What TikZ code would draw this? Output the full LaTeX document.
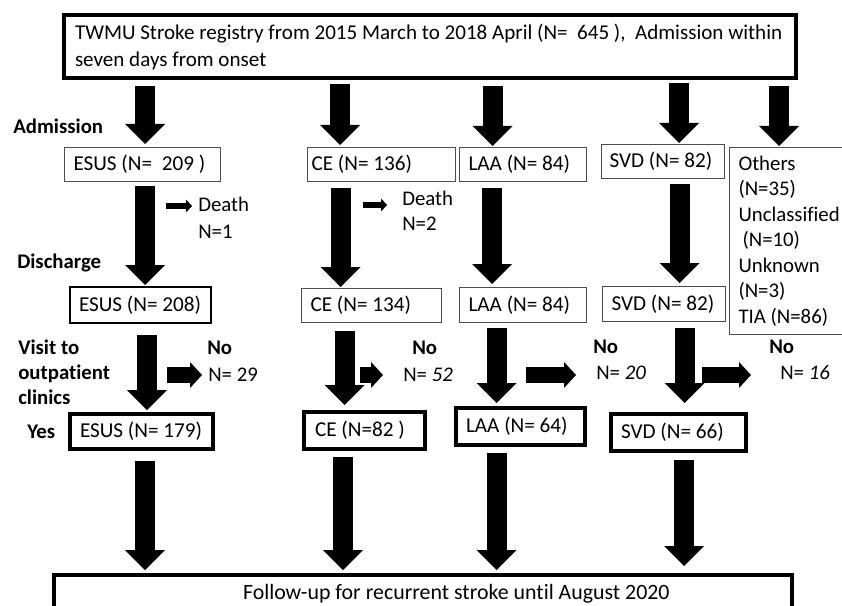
\documentclass[tikz,border=0pt]{standalone}
\usepackage{fontspec}
\setmainfont{Carlito}[Ligatures=NoCommon]
\usetikzlibrary{arrows.meta}
\newdimen\pxu
\pxu=0.75pt
% #1 name #2 style #3 x0 #4 y0 #5 x1 #6 y1 #7 left pad #8 extra options #9 text
\newcommand\flowbox[9]{%
  \pgfmathsetmacro\fbw{(#5-#3-2*#7)*0.75}%
  \pgfmathsetmacro\fbh{(#6-#4)*0.75}%
  \pgfmathsetmacro\fbp{#7*0.75}%
  \node[#2, anchor=north west, text width=\fbw pt, minimum height=\fbh pt,
        inner xsep=\fbp pt, inner ysep=0pt, align=left, #8] (#1) at (#3,#4)
        {\spaceskip=0pt\xspaceskip=0pt\relax #9};}
% #1 x coordinate, #2 from anchor, #3 to anchor, #4 start gap px, #5 end gap px
\newcommand\blockarrow[5]{%
  \pgfmathsetmacro\bas{#4*0.75}%
  \pgfmathsetmacro\bae{#5*0.75}%
  \draw[bigarrow, shorten <=\bas pt, shorten >=\bae pt] (#2 -| #1) -- (#3 -| #1);}
\begin{document}
\begin{tikzpicture}[x=0.75pt, y=-0.75pt,
  every node/.style={font=\fontsize{15.6pt}{19pt}\selectfont, inner sep=0pt},
  thinbox/.style={draw=black!70, line width=0.75pt},
  midbox/.style={draw=black, line width=1.5pt},
  thickbox/.style={draw=black, line width=3pt},
  boxfont/.style={font=\fontsize{15.9pt}{19pt}\selectfont},
  lbl/.style={font=\fontsize{15.6pt}{18.75pt}\selectfont\bfseries},
  bigarrow/.style={draw=black, line width=15pt, -{Triangle[width=30pt,length=15pt,line width=0pt]}},
  midarrow/.style={draw=black, line width=12pt, -{Triangle[width=19.5pt,length=9pt,line width=0pt]}},
  smallarrow/.style={draw=black, line width=4.5pt, -{Triangle[width=9.75pt,length=4.5pt,line width=0pt]}}]
\fill[white] (0,0) rectangle (842,606);
\useasboundingbox (0,0) rectangle (842,606);

% top box
\flowbox{top}{thickbox}{62}{13}{794}{76}{11}{font=\fontsize{15.8pt}{20.25pt}\selectfont}{\mbox{TWMU Stroke registry from 2015 March to 2018 April (N=\ \ 645 ),\ \ Admission within}\\seven days from onset}

% row 1 (admission)
\flowbox{esusA}{thinbox}{64}{147}{220}{181}{9}{boxfont}{\mbox{ESUS (N=\ \ 209 )}}
\flowbox{ceA}{thinbox}{307}{147}{455}{181}{4}{boxfont}{\mbox{CE (N= 136)}}
\flowbox{laaA}{thinbox}{459}{147}{586}{181}{9}{boxfont}{\mbox{LAA (N= 84)}}
\flowbox{svdA}{thinbox}{601}{144}{724}{178}{8}{boxfont}{\mbox{SVD (N= 82)}}
\flowbox{others}{thinbox}{729}{147}{860}{334}{9}{font=\fontsize{15.6pt}{19.1pt}\selectfont}{Others\\(N=35)\\Unclassified\\\hspace*{4\pxu}(N=10)\\Unknown\\(N=3)\\TIA (N=86)}

% row 2 (discharge)
\flowbox{esusB}{midbox}{69}{286}{210}{322}{9}{boxfont}{\mbox{ESUS (N= 208)}}
\flowbox{ceB}{thinbox}{301}{288}{441}{322}{9}{boxfont}{\mbox{CE (N= 134)}}
\flowbox{laaB}{thinbox}{459}{287}{586}{322}{9}{boxfont}{\mbox{LAA (N= 84)}}
\flowbox{svdB}{thinbox}{602}{286}{725}{321}{9}{boxfont}{\mbox{SVD (N= 82)}}

% row 3 (outpatient)
\flowbox{esusC}{thickbox}{68}{412}{211}{447}{10}{boxfont}{\mbox{ESUS (N= 179)}}
\flowbox{ceC}{thickbox}{302}{410}{423}{447}{11}{boxfont}{\mbox{CE (N=82 )}}
\flowbox{laaC}{thickbox}{454}{406}{583}{443}{10}{boxfont}{\mbox{LAA (N= 64)}}
\flowbox{svdC}{thickbox}{609}{412}{744}{449}{10}{boxfont}{\mbox{SVD (N= 66)}}

% bottom box
\flowbox{follow}{thickbox}{52}{573}{790}{611}{0}{font=\fontsize{16.4pt}{19pt}\selectfont}{\hspace*{189\pxu}\mbox{Follow-up for recurrent stroke until August 2020}}

% left labels
\node[lbl, anchor=west] (admission) at (13,126) {Admission};
\node[lbl, anchor=west] (discharge) at (17,263) {Discharge};
\node[lbl, anchor=north west, align=left] (visit) at (18,340) {\spaceskip=0pt\relax Visit to\\outpatient\\clinics};
\node[lbl, anchor=west] (yes) at (27,432) {Yes};

% death labels
\node[anchor=north west, align=left, font=\fontsize{15.6pt}{20.25pt}\selectfont] (death1) at (198,197) {Death\\N=1};
\node[anchor=north west, align=left, font=\fontsize{15.6pt}{18.75pt}\selectfont] (death2) at (402,191) {Death\\N=2};
\coordinate (d1s) at (166,206);
\coordinate (d2s) at (363,205);
\draw[smallarrow, shorten >=4.5pt] (d1s) -- (d1s -| death1.west);
\draw[smallarrow, shorten >=11.25pt] (d2s) -- (d2s -| death2.west);

% no labels
\node[lbl, anchor=west] (no1) at (207,348) {No};
\node[anchor=west] (n1) at (208,375) {N= 29};
\node[lbl, anchor=west] (no2) at (412,348) {No};
\node[anchor=west] (n2) at (403,375) {N= \textit{52}};
\node[lbl, anchor=west] (no3) at (593,347) {No};
\node[anchor=west] (n3) at (596,373) {N= \textit{20}};
\node[lbl, anchor=west] (no4) at (769,347) {No};
\node[anchor=west] (n4) at (780,373) {N= \textit{16}};
\coordinate (s1) at (167,375);
\coordinate (s2) at (360,375);
\coordinate (s3) at (526,375);
\coordinate (s4) at (702,375);
\draw[midarrow, shorten >=4.5pt] (s1) -- (s1 -| n1.west);
\draw[midarrow, shorten >=15pt] (s2) -- (s2 -| n2.west);
\draw[midarrow, shorten >=15pt] (s3) -- (s3 -| n3.west);
\draw[midarrow, shorten >=21.75pt] (s4) -- (s4 -| n4.west);

% arrow columns
\coordinate (a01) at (145,0);
\coordinate (a02) at (340,0);
\coordinate (a03) at (492.5,0);
\coordinate (a04) at (679,0);
\coordinate (a05) at (779,0);
\coordinate (a11) at (145,0);
\coordinate (a12) at (340.5,0);
\coordinate (a13) at (492,0);
\coordinate (a14) at (679.5,0);
\coordinate (a21) at (147,0);
\coordinate (a22) at (344.5,0);
\coordinate (a23) at (496.5,0);
\coordinate (a24) at (684.5,0);
\coordinate (a31) at (145,0);
\coordinate (a32) at (343,0);
\coordinate (a33) at (496.5,0);
\coordinate (a34) at (684,0);

\blockarrow{a01}{top.south}{esusA.north}{6}{3}
\blockarrow{a02}{top.south}{ceA.north}{4}{2}
\blockarrow{a03}{top.south}{laaA.north}{6}{1}
\blockarrow{a04}{top.south}{svdA.north}{3}{1}
\blockarrow{a05}{top.south}{others.north}{6}{1}

\blockarrow{a11}{esusA.south}{esusB.north}{4}{1}
\blockarrow{a12}{ceA.south}{ceB.north}{6}{1}
\blockarrow{a13}{laaA.south}{laaB.north}{6}{3}
\blockarrow{a14}{svdA.south}{svdB.north}{5}{3}

\blockarrow{a21}{esusB.south}{esusC.north}{11}{2}
\blockarrow{a22}{ceB.south}{ceC.north}{8}{5}
\blockarrow{a23}{laaB.south}{laaC.north}{5}{3}
\blockarrow{a24}{svdB.south}{svdC.north}{6}{9}

\blockarrow{a31}{esusC.south}{follow.north}{10}{3}
\blockarrow{a32}{ceC.south}{follow.north}{6}{3}
\blockarrow{a33}{laaC.south}{follow.north}{6}{3}
\blockarrow{a34}{svdC.south}{follow.north}{7}{7}
\end{tikzpicture}
\end{document}
